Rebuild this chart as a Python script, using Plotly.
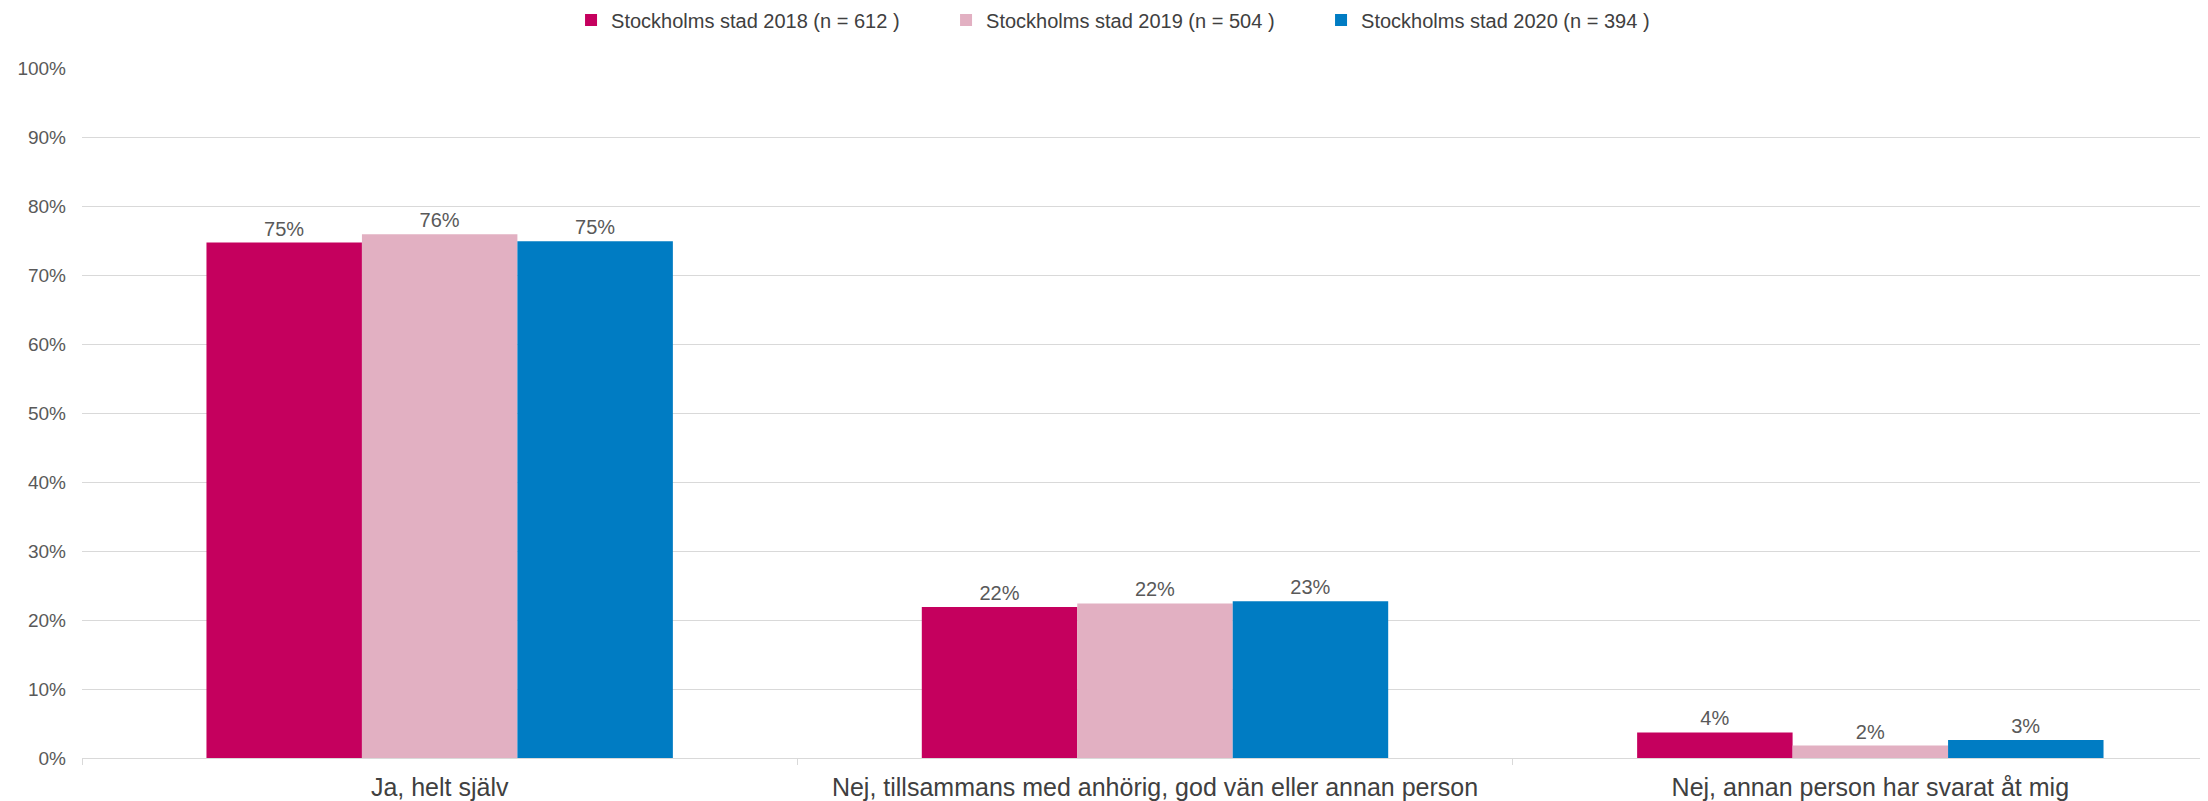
import plotly.graph_objects as go

categories = ["Ja, helt själv",
              "Nej, tillsammans med anhörig, god vän eller annan person",
              "Nej, annan person har svarat åt mig"]
series_names = ["Stockholms stad 2018 (n = 612 )",
                "Stockholms stad 2019 (n = 504 )",
                "Stockholms stad 2020 (n = 394 )"]
values_2018 = [0.747, 0.219, 0.037]
values_2019 = [0.759, 0.224, 0.018]
values_2020 = [0.749, 0.227, 0.026]
colors = ["#C5005E", "#E2B0C2", "#007CC3"]
ytick_vals = [i / 10 for i in range(11)]
ytick_text = [f"{i*10}%" for i in range(11)]

fig = go.Figure()
for name, vals, col in zip(series_names, [values_2018, values_2019, values_2020], colors):
    fig.add_trace(go.Bar(
        x=categories, y=vals, name=name, marker_color=col, marker_line_width=0,
        text=[f"{round(v*100):.0f}%" for v in vals], textposition="outside",
        textfont=dict(family="Liberation Sans", size=20, color="#595959"),
        cliponaxis=False,
    ))

fig.update_layout(
    width=2240, height=801,
    paper_bgcolor="white", plot_bgcolor="white",
    margin=dict(l=74, r=20, t=60, b=51, autoexpand=False),
    barmode="group", bargap=0.348, bargroupgap=0,
    font=dict(family="Liberation Sans", color="#595959"),
    legend=dict(orientation="h", x=0.49, xanchor="center", y=0.985, yanchor="middle",
                yref="container", font=dict(size=20, color="#404040"),
                entrywidth=330, entrywidthmode="pixels", itemwidth=30,
                traceorder="normal"),
    showlegend=True,
)
fig.update_yaxes(range=[0, 1], tickvals=ytick_vals, ticktext=ytick_text,
                 showgrid=True, gridcolor="#D9D9D9", gridwidth=1,
                 zeroline=False, showline=False, automargin=False,
                 tickfont=dict(size=19, color="#595959"), ticklabelstandoff=15)
fig.update_xaxes(showline=True, linecolor="#D9D9D9", linewidth=1, automargin=False,
                 ticks="outside", tickson="boundaries", ticklen=6, tickcolor="#D9D9D9",
                 tickfont=dict(size=25, color="#404040"), ticklabelstandoff=7)

fig.write_html("out.html")
